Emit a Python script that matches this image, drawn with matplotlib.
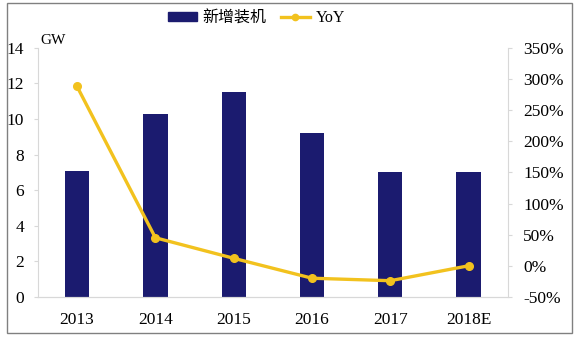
import matplotlib
matplotlib.use("Agg")
import matplotlib.pyplot as plt
from matplotlib.patches import Rectangle
from matplotlib.lines import Line2D
from matplotlib.ticker import FuncFormatter

years = ["2013", "2014", "2015", "2016", "2017", "2018E"]
capacity = [7.1, 10.3, 11.5, 9.2, 7.0, 7.0]
yoy = [288, 45, 12, -20, -24, 0]

plt.rcParams['font.family'] = ['Liberation Serif', 'Noto Sans CJK SC']
navy = '#1b1b6f'
gold = '#f2c21e'

fig = plt.figure(figsize=(5.83, 3.37), dpi=100)
ax = fig.add_axes([0.065, 0.119, 0.806, 0.739])
x = list(range(len(years)))
ax.bar(x, capacity, width=0.31, color=navy, zorder=2)
ax.set_xlim(-0.5, len(years) - 0.5)
ax.set_ylim(0, 14)
ax.set_yticks(range(0, 15, 2))
ax.set_xticks(x)
ax.set_xticklabels(years)
ax.tick_params(axis='x', length=0, labelsize=12.5, pad=11)
ax.tick_params(axis='y', length=3, color='#d8d8d8', labelsize=12.5, pad=7)

ax2 = ax.twinx()
ax2.plot(x, yoy, color=gold, lw=2.4, marker='o', ms=5.5, zorder=3)
ax2.set_ylim(-50, 350)
ax2.set_yticks(range(-50, 351, 50))
ax2.yaxis.set_major_formatter(FuncFormatter(lambda v, p: f"{v:.0f}%"))
ax2.tick_params(axis='y', length=3, color='#d8d8d8', labelsize=12.5, pad=8)

for a in (ax, ax2):
    a.spines['top'].set_visible(False)
    for s in ('left', 'right', 'bottom'):
        a.spines[s].set_color('#d8d8d8')
ax2.spines['left'].set_visible(False)
ax.spines['right'].set_visible(False)

ax.text(0.005, 1.005, "GW", transform=ax.transAxes, fontsize=11, va='bottom', ha='left')

handles = [Rectangle((0, 0), 1, 1, color=navy),
           Line2D([0], [0], color=gold, lw=2.4, marker='o', ms=4.5)]
fig.legend(handles, ["新增装机", "YoY"], loc='upper center', bbox_to_anchor=(0.44, 1.012),
           ncol=2, frameon=False, fontsize=11.5, handlelength=1.8, handleheight=0.5,
           columnspacing=0.9, handletextpad=0.35)

fig.patches.append(Rectangle((0.012, 0.012), 0.969, 0.979, transform=fig.transFigure,
                             fill=False, edgecolor='#808080', lw=1))
fig.savefig("out.png", dpi=100)
